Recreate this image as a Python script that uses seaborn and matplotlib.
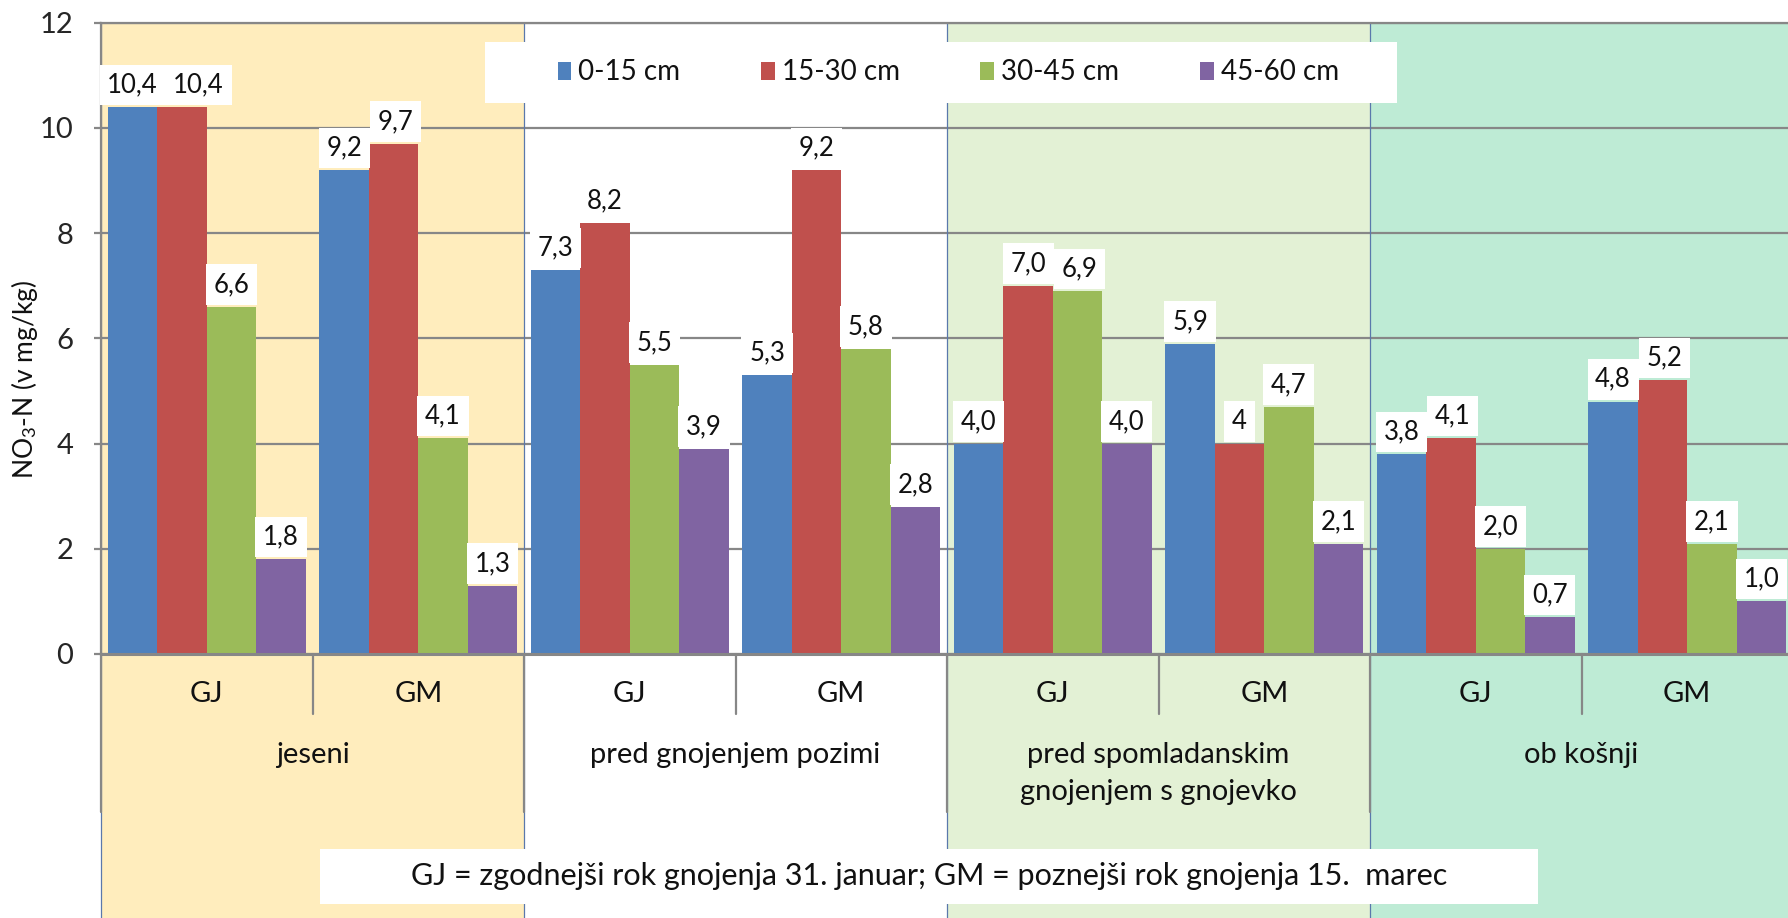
import matplotlib
matplotlib.use("Agg")
import matplotlib.pyplot as plt
from matplotlib.patches import Rectangle, Patch
import pandas as pd
import seaborn as sns

# Sampling periods (groups) and fertilisation dates (sub-categories)
obdobja = ["jeseni", "pred gnojenjem pozimi",
           "pred spomladanskim\ngnojenjem s gnojevko", "ob košnji"]
roki = ["GJ", "GM"]
globine = ["0-15 cm", "15-30 cm", "30-45 cm", "45-60 cm"]

# NO3-N per soil depth, written with a decimal comma as they are labelled
vrednosti_0_15 = ["10,4", "9,2", "7,3", "5,3", "4,0", "5,9", "3,8", "4,8"]
vrednosti_15_30 = ["10,4", "9,7", "8,2", "9,2", "7,0", "4", "4,1", "5,2"]
vrednosti_30_45 = ["6,6", "4,1", "5,5", "5,8", "6,9", "4,7", "2,0", "2,1"]
vrednosti_45_60 = ["1,8", "1,3", "3,9", "2,8", "4,0", "2,1", "0,7", "1,0"]

y_oznake = ["0", "2", "4", "6", "8", "10", "12"]
opomba = "GJ = zgodnejši rok gnojenja 31. januar; GM = poznejši rok gnojenja 15.  marec"

barve_globin = ["#4F81BD", "#C0504D", "#9BBB59", "#8064A2"]
barve_obdobij = ["#FFEDBD", "#FFFFFF", "#E3F1D5", "#BEEBD5"]
siva = "#878787"

sns.set_theme(style="white")
plt.rcParams["font.family"] = ["Lato", "DejaVu Sans"]
plt.rcParams["mathtext.fontset"] = "custom"
plt.rcParams["mathtext.rm"] = "Lato"
plt.rcParams["mathtext.it"] = "Lato:italic"
plt.rcParams["mathtext.bf"] = "Lato:bold"
plt.rcParams["text.color"] = "#111111"

kategorije = [f"{o}|{r}" for o in obdobja for r in roki]
serije = [vrednosti_0_15, vrednosti_15_30, vrednosti_30_45, vrednosti_45_60]

vrstice = []
for globina, serija in zip(globine, serije):
    for kat, besedilo in zip(kategorije, serija):
        vrstice.append({"kategorija": kat, "globina": globina,
                        "vrednost": float(besedilo.replace(",", "."))})
df = pd.DataFrame(vrstice)

W, H = 1788, 918
DPI = 100
fig = plt.figure(figsize=(W / DPI, H / DPI), dpi=DPI)
ax = fig.add_axes([101 / W, 264 / H, 1692 / W, 631.2 / H])
ax.set_facecolor("white")

sns.barplot(data=df, x="kategorija", y="vrednost", hue="globina",
            order=kategorije, hue_order=globine, palette=barve_globin,
            width=0.935, gap=0, saturation=1, errorbar=None, legend=False,
            linewidth=0, edgecolor="none", ax=ax)

ax.set_xlim(-0.5, 7.5)
ax.set_ylim(0, 12)
ax.set_yticks([float(t) for t in y_oznake])
ax.set_yticklabels(y_oznake)
ax.set_xlabel("")
ax.set_ylabel("")
ax.set_xticks([])

ax.set_axisbelow(True)
ax.yaxis.grid(True, color=siva, lw=1.6)
ax.xaxis.grid(False)
for s in ["left", "top"]:
    ax.spines[s].set_color(siva)
    ax.spines[s].set_linewidth(1.6)
ax.spines["bottom"].set_color(siva)
ax.spines["bottom"].set_linewidth(2.2)
ax.spines["right"].set_visible(False)
ax.tick_params(axis="y", direction="out", length=5, width=1.6, color=siva,
               labelsize=21, pad=15, left=True)

trans = ax.get_xaxis_transform()
y_dno = -0.43

# Coloured background for each sampling period, reaching down to the figure edge
for i, barva in enumerate(barve_obdobij):
    ax.add_patch(Rectangle((2 * i - 0.5, y_dno), 2, 1 - y_dno, transform=trans,
                           facecolor=barva, edgecolor="none", zorder=0,
                           clip_on=False))
for x in [-0.5, 1.5, 3.5, 5.5]:
    ax.plot([x, x], [y_dno, 1], transform=trans, color="#5A78AC", lw=0.9,
            zorder=0.6, clip_on=False)
    ax.plot([x, x], [0, -0.251], transform=trans, color=siva, lw=1.6,
            zorder=0.7, clip_on=False)
for x in [0.5, 2.5, 4.5, 6.5]:
    ax.plot([x, x], [0, -0.095], transform=trans, color=siva, lw=1.6,
            zorder=0.7, clip_on=False)

# Two-level category axis
for i, kat in enumerate(kategorije):
    ax.text(i, -0.0634, kat.split("|")[1], transform=trans, ha="center",
            va="center", fontsize=21)
for i, o in enumerate(obdobja):
    ax.text(2 * i + 0.5, -0.140, o, transform=trans, ha="center", va="top",
            fontsize=21, linespacing=1.52)

# Value labels: white boxes first, then all texts on top of them
ODMIK = 7
skatle = []
besedila = []
for cont, serija in zip(ax.containers, serije):
    skatle.append(ax.bar_label(
        cont, labels=serija, padding=ODMIK, fontsize=18.5, zorder=3.5,
        color="none",
        bbox=dict(boxstyle="square,pad=0.3", fc="white", ec="none")))
for cont, serija in zip(ax.containers, serije):
    besedila.append(ax.bar_label(cont, labels=serija, padding=ODMIK,
                                 fontsize=18.5, zorder=4))

# Push a label to the right when its box would cover the neighbour's box
fig.canvas.draw()
rend = fig.canvas.get_renderer()
for k in range(len(kategorije)):
    prejsnji = None
    for s in range(len(globine)):
        box = skatle[s][k]
        ext = box.get_bbox_patch().get_window_extent(rend)
        premik = 0.0
        if prejsnji is not None:
            px0, px1, py0, py1 = prejsnji
            if ext.x0 < px1 and ext.y0 < py1 and ext.y1 > py0:
                premik = px1 - ext.x0
        if premik > 0:
            dx = premik * 72 / DPI
            for ann in (box, besedila[s][k]):
                ann.xyann = (ann.xyann[0] + dx, ann.xyann[1])
        prejsnji = (ext.x0 + premik, ext.x1 + premik, ext.y0, ext.y1)

# Legend on a white panel
ax.add_patch(Rectangle((0.227, 0.873), 0.539, 0.0966, transform=ax.transAxes,
                       facecolor="white", edgecolor="none", zorder=2.5))
rocice = [Patch(facecolor=c, edgecolor="none", label=g)
          for c, g in zip(barve_globin, globine)]
ax.legend(handles=rocice, loc="center left", bbox_to_anchor=(0.2698, 0.9213),
          ncol=4, frameon=False, fontsize=20, handlelength=0.5,
          handleheight=0.6, handletextpad=0.25, columnspacing=2.9,
          borderpad=0, borderaxespad=0)

fig.text(25 / W, 1 - 379 / H, r"NO$_3$-N (v mg/kg)", rotation=90,
         ha="center", va="center", fontsize=19)

# Footnote explaining the abbreviations
fig.add_artist(Rectangle((320 / W, 1 - 904 / H), 1218 / W, 55 / H,
                         transform=fig.transFigure, facecolor="white",
                         edgecolor="none", zorder=3))
fig.text(929 / W, 1 - 876 / H, opomba, ha="center", va="center",
         fontsize=22, zorder=4)

fig.savefig("out.png", dpi=DPI)
